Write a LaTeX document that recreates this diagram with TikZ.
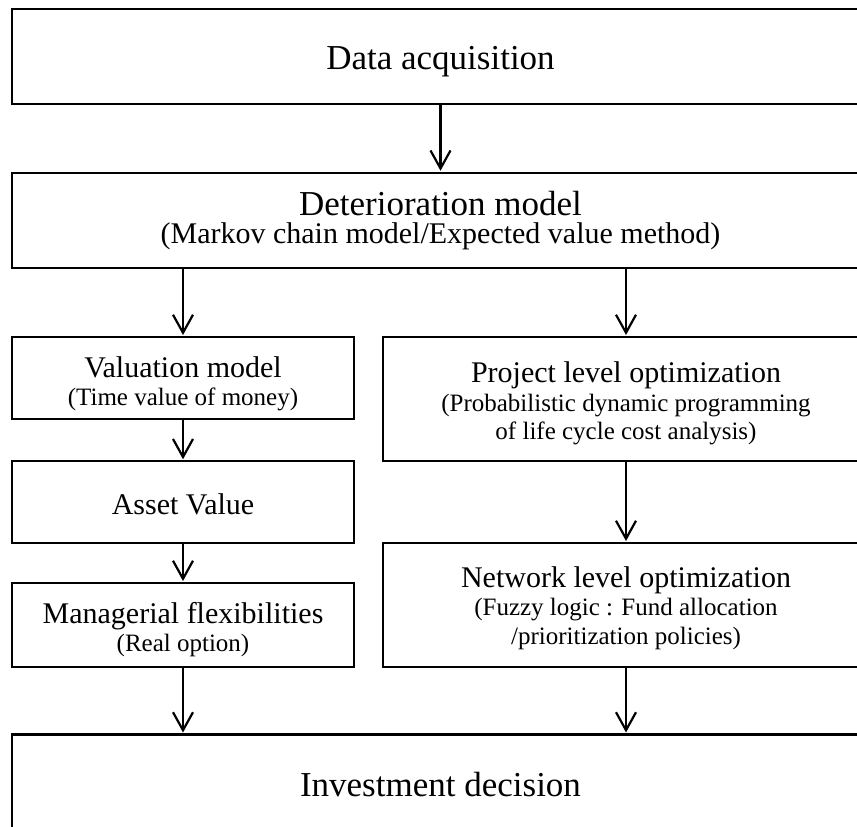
\documentclass[tikz,border=0pt]{standalone}
\usepackage{fontspec}
\setmainfont{Liberation Serif}
\usetikzlibrary{arrows.meta,positioning}

\newcommand{\fsbig}{\fontsize{35}{28.5}\selectfont}
\newcommand{\fsmid}{\fontsize{30}{28.5}\selectfont}
\newcommand{\fssmall}{\fontsize{25}{28.5}\selectfont}
\newcommand{\padtop}[1]{\rule{0pt}{#1}}

\begin{document}
\begin{tikzpicture}[x=1pt,y=-1pt,->,>={Straight Barb[length=18pt,width=20pt]},
  shorten >=2pt,line width=2.2pt,
  box node/.style={rectangle,draw,fill=white,align=center,inner sep=0pt,outer sep=0pt,
    font=\fssmall},
  wide node/.style={box node,minimum width=857pt},
  left node/.style={box node,minimum width=342pt},
  right node/.style={box node,minimum width=486pt}]

  \useasboundingbox (0,0) rectangle (857,827);
  \clip (0,0) rectangle (857,827);

  \node[wide node,minimum height=95pt] (1) at (440.5,56.5) {\fsbig\padtop{33pt}Data acquisition};
  \node[wide node,minimum height=95.5pt] (2) at (440.5,220.5)
    {\fsbig Deterioration model\\\fsmid (Markov chain model/Expected value method)};
  \node[left node,minimum height=82pt] (3) at (183,378)
    {\fsmid\padtop{32pt}Valuation model\\\fssmall (Time value of money)};
  \node[right node,minimum height=124pt] (4) at (626,399)
    {\fsmid\padtop{30pt}Project level optimization\\\fssmall (Probabilistic dynamic programming\\\fssmall of life cycle cost analysis)};
  \node[left node,minimum height=81.5pt] (5) at (183,502) {\fsmid\padtop{26pt}Asset Value};
  \node[left node,minimum height=84pt] (6) at (183,625)
    {\fsmid\padtop{30pt}Managerial flexibilities\\\fssmall (Real option)};
  \node[right node,minimum height=124pt] (7) at (626,605)
    {\fsmid\padtop{26.5pt}Network level optimization\\\fssmall (Fuzzy logic : Fund allocation\\\fssmall /prioritization policies)};
  \node[wide node,minimum height=101pt] (8) at (440.5,785) {\fsbig Investment decision};

  \path
    (1) edge (2)
    (2.south -| 3.north) edge (3)
    (2.south -| 4.north) edge (4)
    (3) edge (5)
    (5) edge (6)
    (4) edge (7)
    (6.south) edge (6.south |- 8.north)
    (7.south) edge (7.south |- 8.north);

\end{tikzpicture}
\end{document}
